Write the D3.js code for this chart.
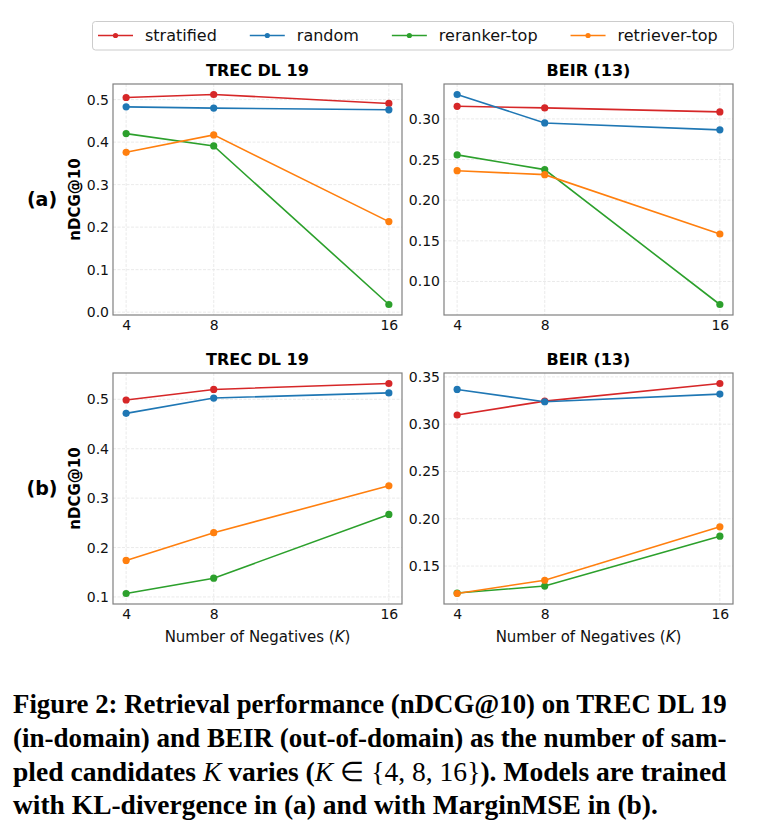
<!DOCTYPE html>
<html>
<head>
<meta charset="utf-8">
<script src="https://cdn.jsdelivr.net/npm/d3@7"></script>
<style>
  body { margin: 0; background: #fff; }
  svg { display: block; }
</style>
</head>
<body>
<svg id="fig" width="758" height="830"></svg>
<script>
// valores
const negativos = [4, 8, 16];
const series = ['stratified', 'random', 'reranker-top', 'retriever-top'];
const cores = ['#d62728', '#1f77b4', '#2ca02c', '#ff7f0e'];

// (a) KL-divergence
const aTrec = {
  'stratified': [0.505, 0.512, 0.491],
  'random': [0.483, 0.480, 0.476],
  'reranker-top': [0.420, 0.391, 0.018],
  'retriever-top': [0.376, 0.417, 0.213]
};
const aBeir = {
  'stratified': [0.3155, 0.3135, 0.3086],
  'random': [0.330, 0.295, 0.2865],
  'reranker-top': [0.2557, 0.2376, 0.0717],
  'retriever-top': [0.2363, 0.2314, 0.1584]
};
// (b) MarginMSE
const bTrec = {
  'stratified': [0.4986, 0.520, 0.532],
  'random': [0.4716, 0.5026, 0.513],
  'reranker-top': [0.107, 0.138, 0.267],
  'retriever-top': [0.174, 0.230, 0.325]
};
const bBeir = {
  'stratified': [0.3097, 0.3244, 0.343],
  'random': [0.3367, 0.3237, 0.3318],
  'reranker-top': [0.1215, 0.1289, 0.1816],
  'retriever-top': [0.121, 0.135, 0.1915]
};

const ticksATrec = [0.0, 0.1, 0.2, 0.3, 0.4, 0.5];
const ticksABeir = [0.10, 0.15, 0.20, 0.25, 0.30];
const ticksBTrec = [0.1, 0.2, 0.3, 0.4, 0.5];
const ticksBBeir = [0.15, 0.20, 0.25, 0.30, 0.35];

const titulos = ['TREC DL 19', 'BEIR (13)'];

const svg = d3.select('#fig');
const fonte = 'DejaVu Sans, sans-serif';

// legenda
function desenharLegenda() {
  const g = svg.append('g');
  const caixa = g.append('rect')
    .attr('x', 92.5).attr('y', 21.5).attr('width', 641).attr('height', 28.5)
    .attr('rx', 3).attr('fill', '#fff').attr('stroke', '#cccccc').attr('stroke-width', 1);
  let x = 98;
  series.forEach((s, i) => {
    g.append('line').attr('x1', x).attr('x2', x + 35).attr('y1', 35.5).attr('y2', 35.5)
      .attr('stroke', cores[i]).attr('stroke-width', 1.6);
    g.append('circle').attr('cx', x + 17.5).attr('cy', 35.5).attr('r', 2.6).attr('fill', cores[i]);
    const t = g.append('text').attr('x', x + 47).attr('y', 41)
      .attr('font-family', fonte).attr('font-size', 16).attr('fill', '#111').text(s);
    x = x + 47 + t.node().getComputedTextLength() + 33;
  });
}

function painel(caixa, dados, ticks, fmt, titulo, mostrarX, rotuloY) {
  const x = d3.scaleLinear().domain([3.4, 16.6]).range([caixa.x0, caixa.x1]);
  const todos = series.flatMap((s) => dados[s]);
  const [mn, mx] = d3.extent(todos);
  const pad = (mx - mn) * 0.05;
  const y = d3.scaleLinear().domain([mn - pad, mx + pad]).range([caixa.y1, caixa.y0]);

  const g = svg.append('g');

  // grade
  g.append('g').selectAll('line').data(ticks).enter().append('line')
    .attr('x1', caixa.x0).attr('x2', caixa.x1)
    .attr('y1', (d) => y(d)).attr('y2', (d) => y(d))
    .attr('stroke', '#e4e4e4').attr('stroke-width', 0.8).attr('stroke-dasharray', '3,1.5');
  g.append('g').selectAll('line').data(negativos).enter().append('line')
    .attr('y1', caixa.y0).attr('y2', caixa.y1)
    .attr('x1', (d) => x(d)).attr('x2', (d) => x(d))
    .attr('stroke', '#e4e4e4').attr('stroke-width', 0.8).attr('stroke-dasharray', '3,1.5');

  // eixos
  const eixoY = g.append('g').attr('transform', `translate(${caixa.x0},0)`)
    .call(d3.axisLeft(y).tickValues(ticks).tickFormat(d3.format(fmt)).tickSize(0).tickPadding(4));
  const eixoX = g.append('g').attr('transform', `translate(0,${caixa.y1})`)
    .call(d3.axisBottom(x).tickValues(negativos).tickFormat(d3.format('d')).tickSize(0).tickPadding(5));
  [eixoY, eixoX].forEach((e) => {
    e.select('.domain').remove();
    e.selectAll('text').attr('font-family', fonte).attr('font-size', 14).attr('fill', '#111');
  });

  // linhas
  const linha = d3.line().x((d, i) => x(negativos[i])).y((d) => y(d));
  series.forEach((s, i) => {
    g.append('path').datum(dados[s]).attr('d', linha)
      .attr('fill', 'none').attr('stroke', cores[i]).attr('stroke-width', 1.6);
    g.selectAll(null).data(dados[s]).enter().append('circle')
      .attr('cx', (d, j) => x(negativos[j])).attr('cy', (d) => y(d))
      .attr('r', 3.6).attr('fill', cores[i]);
  });

  // moldura
  g.append('rect').attr('x', caixa.x0).attr('y', caixa.y0)
    .attr('width', caixa.x1 - caixa.x0).attr('height', caixa.y1 - caixa.y0)
    .attr('fill', 'none').attr('stroke', '#808080').attr('stroke-width', 1.2);

  // título
  g.append('text').attr('x', (caixa.x0 + caixa.x1) / 2).attr('y', caixa.y0 - 8)
    .attr('text-anchor', 'middle').attr('font-family', fonte).attr('font-weight', 'bold')
    .attr('font-size', 16).attr('fill', '#000').text(titulo);

  if (rotuloY) {
    const cy = (caixa.y0 + caixa.y1) / 2;
    g.append('text').attr('transform', `translate(${caixa.x0 - 38},${cy}) rotate(-90)`)
      .attr('text-anchor', 'middle').attr('dy', '0.35em').attr('font-family', fonte).attr('font-weight', 'bold')
      .attr('font-size', 15).attr('fill', '#000').text('nDCG@10');
    g.append('text').attr('x', 42).attr('y', cy).attr('dy', '0.35em')
      .attr('text-anchor', 'middle').attr('font-family', fonte).attr('font-weight', 'bold')
      .attr('font-size', 19).attr('fill', '#000').text(rotuloY);
  }

  if (mostrarX) {
    const t = g.append('text').attr('x', (caixa.x0 + caixa.x1) / 2).attr('y', caixa.y1 + 38)
      .attr('text-anchor', 'middle').attr('font-family', fonte).attr('font-size', 15).attr('fill', '#111');
    t.append('tspan').text('Number of Negatives (');
    t.append('tspan').attr('font-style', 'italic').text('K');
    t.append('tspan').text(')');
  }
}

desenharLegenda();
painel({ x0: 113, x1: 402, y0: 84, y1: 315 }, aTrec, ticksATrec, '.1f', titulos[0], false, '(a)');
painel({ x0: 444, x1: 733, y0: 84, y1: 315 }, aBeir, ticksABeir, '.2f', titulos[1], false, null);
painel({ x0: 113, x1: 402, y0: 373, y1: 604 }, bTrec, ticksBTrec, '.1f', titulos[0], true, '(b)');
painel({ x0: 444, x1: 733, y0: 373, y1: 604 }, bBeir, ticksBBeir, '.2f', titulos[1], true, null);

// legenda da figura
const legendaLinhas = [
  [['b', 'Figure 2: Retrieval performance (nDCG@10) on TREC DL 19']],
  [['b', '(in-domain) and BEIR (out-of-domain) as the number of sam-']],
  [['b', 'pled candidates '], ['i', 'K'], ['b', ' varies ('], ['i', 'K'], ['n', ' \u2208 {4, 8, 16}'], ['b', '). Models are trained']],
  [['b', 'with KL-divergence in (a) and with MarginMSE in (b).']]
];
const larguras = [714, 714, 714, 645];
const bases = [713, 747, 781, 814];
legendaLinhas.forEach((partes, i) => {
  const g = svg.append('g');
  const t = g.append('text').attr('x', 0).attr('y', 0)
    .attr('font-family', 'Liberation Serif, serif').attr('font-size', 27).attr('fill', '#000');
  partes.forEach(([tipo, txt]) => {
    const sp = t.append('tspan').text(txt);
    if (tipo === 'b') sp.attr('font-weight', 'bold');
    if (tipo === 'i') sp.attr('font-style', 'italic');
  });
  const w = t.node().getComputedTextLength();
  g.attr('transform', `translate(13,${bases[i]}) scale(${larguras[i] / w},1)`);
});
</script>
</body>
</html>
